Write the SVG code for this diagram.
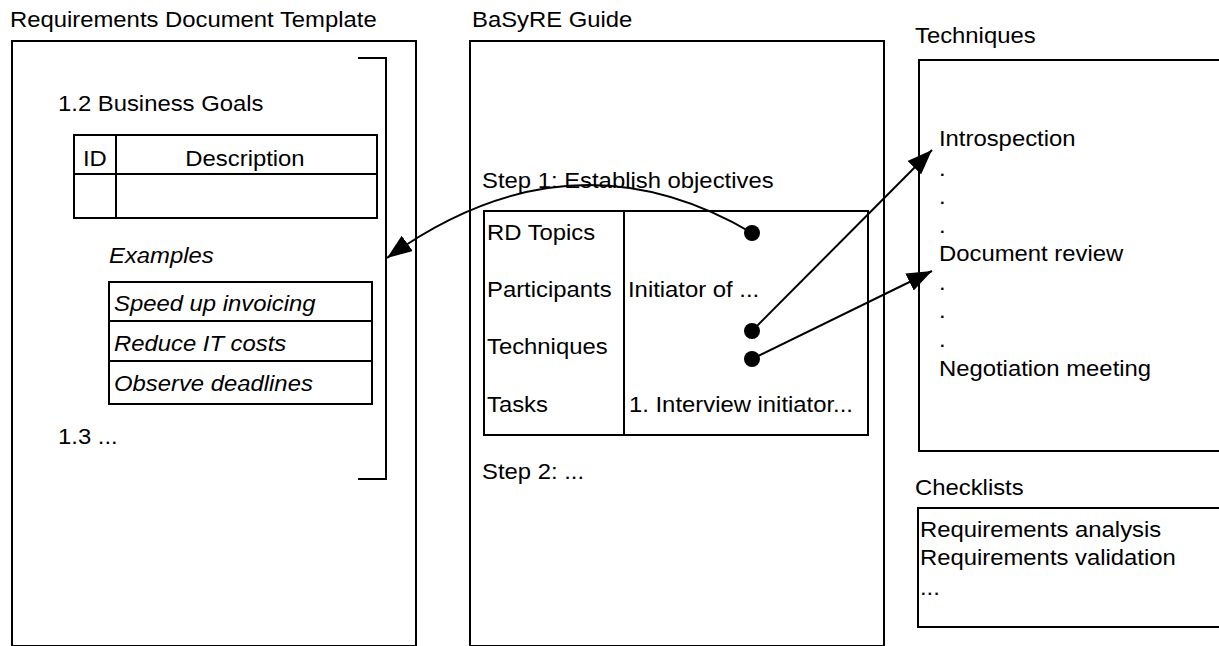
<svg xmlns="http://www.w3.org/2000/svg" width="1219" height="646" viewBox="0 0 1219 646">
<style>
text{font-family:"Liberation Sans",Arial,sans-serif;font-size:22.3px;fill:#000;transform-box:fill-box;transform-origin:left center;transform:scaleX(1.07)}
text.mid{transform-origin:center center}
.it{font-style:italic}
.box{fill:none;stroke:#000;stroke-width:2}
.ln{fill:none;stroke:#000;stroke-width:2}
.con{fill:none;stroke:#000;stroke-width:2}
</style>
<defs>
<marker id="arr" viewBox="0 0 25 19" refX="25" refY="9.5" markerWidth="25" markerHeight="19" markerUnits="userSpaceOnUse" orient="auto">
<path d="M0,0 L25,9.5 L0,19 z" fill="#000"/>
</marker>
</defs>
<rect width="1219" height="646" fill="#fff"/>

<g id="rdt">
<text x="10" y="27">Requirements Document Template</text>
<rect class="box" x="12" y="41" width="404" height="605"/>
<path class="ln" d="M358,58 H386 V479 H358"/>
<text x="58" y="111">1.2 Business Goals</text>
<rect class="box" x="74" y="135" width="303" height="83"/>
<line class="ln" x1="116" y1="135" x2="116" y2="218"/>
<line class="ln" x1="74" y1="174" x2="377" y2="174"/>
<text x="83" y="166">ID</text>
<text class="mid" x="245" y="166" text-anchor="middle">Description</text>
<text class="it" x="109" y="263">Examples</text>
<rect class="box" x="109" y="282" width="263" height="122"/>
<line class="ln" x1="109" y1="321" x2="372" y2="321"/>
<line class="ln" x1="109" y1="361" x2="372" y2="361"/>
<text class="it" x="114" y="311">Speed up invoicing</text>
<text class="it" x="114" y="351">Reduce IT costs</text>
<text class="it" x="114" y="391">Observe deadlines</text>
<text x="58" y="444">1.3 ...</text>
</g>

<g id="guide">
<text x="472" y="27">BaSyRE Guide</text>
<rect class="box" x="470" y="41" width="414" height="605"/>
<text x="482" y="188">Step 1: Establish objectives</text>
<rect class="box" x="484" y="211" width="384" height="224"/>
<line class="ln" x1="624" y1="211" x2="624" y2="435"/>
<text x="487" y="240">RD Topics</text>
<text x="487" y="297">Participants</text>
<text x="487" y="354">Techniques</text>
<text x="487" y="412">Tasks</text>
<text x="628" y="297">Initiator of ...</text>
<text x="629" y="412">1. Interview initiator...</text>
<text x="482" y="479">Step 2: ...</text>
</g>

<g id="techniques">
<text x="915" y="43">Techniques</text>
<rect class="box" x="919" y="60" width="400" height="391"/>
<text x="939" y="146">Introspection</text>
<text x="939" y="176">.</text>
<text x="939" y="204">.</text>
<text x="939" y="233">.</text>
<text x="939" y="261">Document review</text>
<text x="939" y="290">.</text>
<text x="939" y="318">.</text>
<text x="939" y="347">.</text>
<text x="939" y="376">Negotiation meeting</text>
</g>

<g id="checklists">
<text x="915" y="495">Checklists</text>
<rect class="box" x="918" y="508" width="400" height="119"/>
<text x="920" y="537">Requirements analysis</text>
<text x="920" y="565">Requirements validation</text>
<text x="920" y="595">...</text>
</g>

<g id="connectors">
<circle cx="752" cy="233" r="8" fill="#000"/>
<circle cx="752" cy="331" r="8" fill="#000"/>
<circle cx="752" cy="359" r="8" fill="#000"/>
<path class="con" d="M752,233 Q570,126 387,258" marker-end="url(#arr)"/>
<line class="con" x1="752" y1="331" x2="932" y2="150" marker-end="url(#arr)"/>
<line class="con" x1="752" y1="359" x2="932" y2="271" marker-end="url(#arr)"/>
</g>
</svg>
